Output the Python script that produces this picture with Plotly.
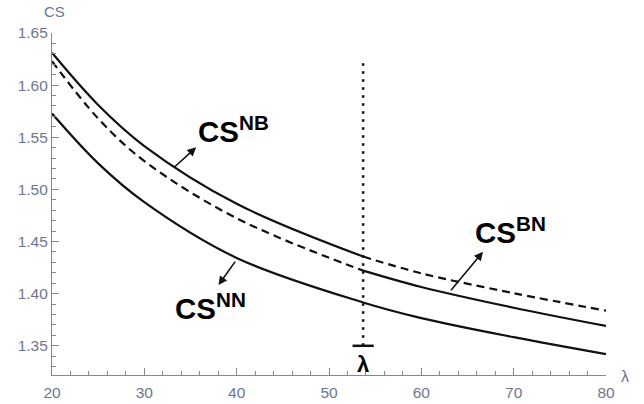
import plotly.graph_objects as go

# ---- data ----
lam = [20, 25, 30, 40, 53.7, 60, 70, 80]
cs_nb = [1.631, 1.581, 1.5416, 1.4862, 1.4356, 1.4195, 1.4005, 1.3837]
cs_bn = [1.623, 1.568, 1.5272, 1.4723, 1.4221, 1.4064, 1.3865, 1.369]
cs_nn = [1.5728, 1.525, 1.4878, 1.4343, 1.3916, 1.3766, 1.3583, 1.342]
lam_bar = 53.7
dotted_top = 1.625
x_ticks = [20, 30, 40, 50, 60, 70, 80]
y_ticks = [1.35, 1.40, 1.45, 1.50, 1.55, 1.60, 1.65]

split = lam.index(lam_bar)
lab_color = "#6d7690"
FONT = "Liberation Sans, Arial, sans-serif"

fig = go.Figure()

def add(xs, ys, dash):
    fig.add_trace(go.Scatter(
        x=xs, y=ys, mode="lines", line_shape="spline",
        line=dict(color="#111111", width=2.2, dash=dash, smoothing=1.0),
        showlegend=False, hoverinfo="skip"))

# NB: solid left of lambda-bar, dashed right
add(lam[:split + 1], cs_nb[:split + 1], "solid")
add(lam[split:], cs_nb[split:], "8px,5px")
# BN: dashed left, solid right
add(lam[:split + 1], cs_bn[:split + 1], "8px,5px")
add(lam[split:], cs_bn[split:], "solid")
# NN
add(lam, cs_nn, "solid")

# dotted vertical line at lambda-bar and the bar
fig.add_shape(type="line", x0=lam_bar, x1=lam_bar, y0=1.35, y1=dotted_top,
              line=dict(color="#111111", width=2.5, dash="2.5px,5.5px"))
fig.add_shape(type="line", x0=lam_bar - 1.15, x1=lam_bar + 1.15, y0=1.35, y1=1.35,
              line=dict(color="#111111", width=2.5))

anns = []
# labels
lab_font = dict(family=FONT, size=29.5, color="black")
anns.append(dict(x=35.6, y=1.5571, text="<b>CS<sup>NB</sup></b>", showarrow=False,
                 xanchor="left", yanchor="middle", font=lab_font))
anns.append(dict(x=33.15, y=1.388, text="<b>CS<sup>NN</sup></b>", showarrow=False,
                 xanchor="left", yanchor="middle", font=lab_font))
anns.append(dict(x=65.6, y=1.4605, text="<b>CS<sup>BN</sup></b>", showarrow=False,
                 xanchor="left", yanchor="middle", font=lab_font))
# arrows
for (hx, hy, tx, ty) in [(35.62, 1.5404, 33.1, 1.5202),
                         (38.03, 1.4082, 39.95, 1.4322),
                         (66.68, 1.4402, 63.08, 1.4018)]:
    anns.append(dict(x=hx, y=hy, ax=tx, ay=ty, xref="x", yref="y", axref="x", ayref="y",
                     text="", showarrow=True, arrowhead=2, arrowsize=1.1,
                     arrowwidth=1.6, arrowcolor="#111111"))
# lambda-bar label
anns.append(dict(x=lam_bar, y=1.3318, text="<b>λ</b>", showarrow=False,
                 xanchor="center", yanchor="middle",
                 font=dict(family=FONT, size=22, color="black")))
# axis names
anns.append(dict(x=0.0054, y=1.064, xref="paper", yref="paper", text="CS", showarrow=False,
                 xanchor="center", yanchor="middle",
                 font=dict(family=FONT, size=15, color=lab_color)))
anns.append(dict(x=1.034, y=-0.004, xref="paper", yref="paper", text="λ", showarrow=False,
                 xanchor="center", yanchor="middle",
                 font=dict(family=FONT, size=16, color=lab_color)))

fig.update_layout(
    width=644, height=404,
    margin=dict(l=52, r=38, t=33, b=29),
    plot_bgcolor="white", paper_bgcolor="white",
    annotations=anns,
    xaxis=dict(range=[20, 80], tickvals=x_ticks, ticktext=[str(v) for v in x_ticks],
               automargin=False, ticklabelstandoff=3,
               showgrid=False, zeroline=False, showline=True, linecolor="#888888",
               linewidth=1.2, ticks="inside", ticklen=7, tickcolor="#888888",
               tickfont=dict(family=FONT, size=15.5, color=lab_color),
               minor=dict(dtick=2, ticks="inside", ticklen=4, tickcolor="#888888",
                          showgrid=False)),
    yaxis=dict(range=[1.322, 1.65], tickvals=y_ticks, ticktext=[f"{v:.2f}" for v in y_ticks],
               automargin=False,
               showgrid=False, zeroline=False, showline=True, linecolor="#888888",
               linewidth=1.2, ticks="inside", ticklen=7, tickcolor="#888888",
               tickfont=dict(family=FONT, size=15.5, color=lab_color),
               minor=dict(dtick=0.01, tick0=1.35, ticks="inside", ticklen=4,
                          tickcolor="#888888", showgrid=False)),
)

fig.write_html("out.html", config={"displayModeBar": False},
               post_script="document.body.style.margin='0px';document.body.style.overflow='hidden';")
